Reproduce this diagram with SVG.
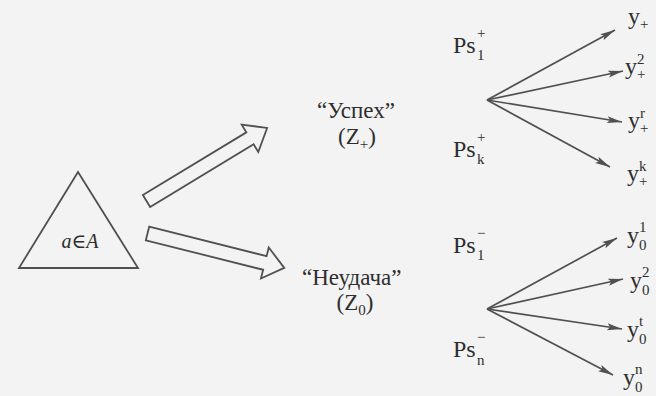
<svg xmlns="http://www.w3.org/2000/svg" width="656" height="396" viewBox="0 0 656 396">
<defs>
<style>
.bg{fill:#f3f3f3}
.ln{stroke:#505050;stroke-width:1.7;fill:none}
.hollow{stroke:#505050;stroke-width:1.8;fill:#f3f3f3;stroke-linejoin:miter}
.t{font-family:'Liberation Serif','DejaVu Serif','Times New Roman',serif;fill:#2e2e2e}
.big{font-size:23px}
.lab{font-size:24px}
.sm{font-size:15px}
.it{font-style:italic;font-size:20px}
</style>
<marker id="ah" markerWidth="16" markerHeight="8" refX="15" refY="4" orient="auto" markerUnits="userSpaceOnUse">
<path d="M0,0.5 L15,4 L0,7.5 L3,4 z" fill="#505050"/>
</marker>
</defs>
<rect class="bg" x="0" y="0" width="656" height="396"/>

<g id="node-action">
<polygon class="hollow" points="78,172 19,268 138,268"/>
<text class="t it" x="80" y="248" text-anchor="middle">a∈A</text>
</g>

<g id="node-success">
<text class="t big" x="317" y="118">“Успех”</text>
<text class="t big" x="357" y="144" text-anchor="middle">(Z<tspan class="sm" dy="5">+</tspan><tspan dy="-5">)</tspan></text>
</g>

<g id="node-failure">
<text class="t big" x="302" y="285">“Неудача”</text>
<text class="t big" x="355" y="310" text-anchor="middle">(Z<tspan class="sm" dy="5">0</tspan><tspan dy="-5">)</tspan></text>
</g>

<g id="node-ps-plus">
<text class="t lab" x="453" y="53">Ps</text>
<text class="t sm" x="477" y="38">+</text>
<text class="t sm" x="477" y="60">1</text>
<text class="t lab" x="453" y="157">Ps</text>
<text class="t sm" x="477" y="142">+</text>
<text class="t sm" x="477" y="164">k</text>
</g>

<g id="node-ps-minus">
<text class="t lab" x="453" y="253">Ps</text>
<text class="t sm" x="477" y="238">−</text>
<text class="t sm" x="477" y="260">1</text>
<text class="t lab" x="453" y="357">Ps</text>
<text class="t sm" x="477" y="342">−</text>
<text class="t sm" x="477" y="365">n</text>
</g>

<g id="node-y-plus">
<text class="t lab" x="628" y="24">y</text>
<text class="t sm" x="640" y="29">+</text>
<text class="t lab" x="625" y="74">y</text>
<text class="t sm" x="637" y="64">2</text>
<text class="t sm" x="637" y="79">+</text>
<text class="t lab" x="628" y="128">y</text>
<text class="t sm" x="640" y="118">r</text>
<text class="t sm" x="640" y="133">+</text>
<text class="t lab" x="627" y="181">y</text>
<text class="t sm" x="639" y="171">k</text>
<text class="t sm" x="639" y="186">+</text>
</g>

<g id="node-y-zero">
<text class="t lab" x="627" y="243">y</text>
<text class="t sm" x="639" y="232">1</text>
<text class="t sm" x="639" y="250">0</text>
<text class="t lab" x="630" y="288">y</text>
<text class="t sm" x="642" y="277">2</text>
<text class="t sm" x="642" y="295">0</text>
<text class="t lab" x="627" y="337">y</text>
<text class="t sm" x="639" y="326">t</text>
<text class="t sm" x="639" y="344">0</text>
<text class="t lab" x="623" y="385">y</text>
<text class="t sm" x="635" y="374">n</text>
<text class="t sm" x="635" y="392">0</text>
</g>

<g id="connectors">
<polygon class="hollow" transform="translate(146.5,201) rotate(-31.2)" points="0,-7 121,-7 121,-16 141,0 121,16 121,7 0,7"/>
<polygon class="hollow" transform="translate(147.5,233.5) rotate(14.1)" points="0,-7 121,-7 121,-16 141,0 121,16 121,7 0,7"/>
<line class="ln" x1="487" y1="100" x2="615" y2="30" marker-end="url(#ah)"/>
<line class="ln" x1="487" y1="100" x2="623" y2="71" marker-end="url(#ah)"/>
<line class="ln" x1="487" y1="100" x2="622" y2="122" marker-end="url(#ah)"/>
<line class="ln" x1="487" y1="100" x2="610" y2="167" marker-end="url(#ah)"/>
<line class="ln" x1="487" y1="309" x2="617" y2="238" marker-end="url(#ah)"/>
<line class="ln" x1="487" y1="309" x2="623" y2="279" marker-end="url(#ah)"/>
<line class="ln" x1="487" y1="309" x2="622" y2="329" marker-end="url(#ah)"/>
<line class="ln" x1="487" y1="309" x2="613" y2="375" marker-end="url(#ah)"/>
</g>
</svg>
